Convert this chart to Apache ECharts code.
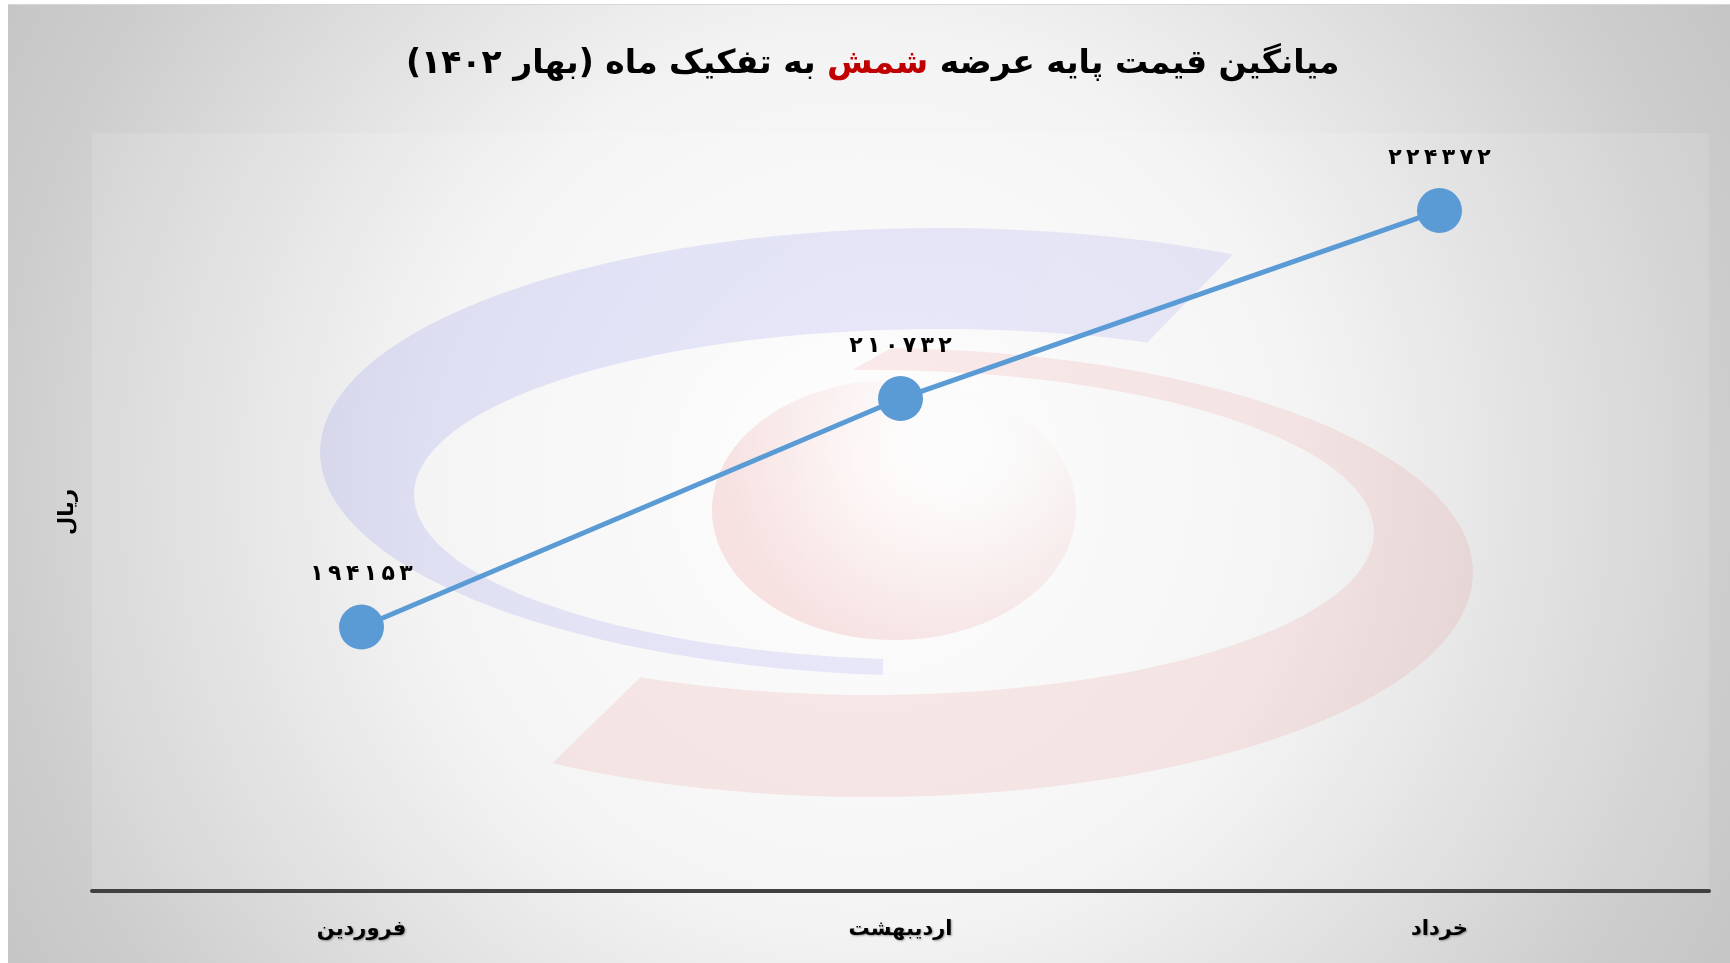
<!DOCTYPE html>
<html>
<head>
<meta charset="utf-8">
<script src="https://cdn.jsdelivr.net/npm/echarts@6/dist/echarts.min.js"></script>
<style>
html,body{margin:0;padding:0;background:#fff;}
#main{position:absolute;left:0;top:0;width:1730px;height:963px;}
</style>
</head>
<body>
<div id="main"></div>
<script>
// ---- data ----
const categories = ['فروردین', 'اردیبهشت', 'خرداد'];
const values = [194153, 210732, 224372];
const yMin = 175000;
const yMax = 230000;
const titleStart = 'میانگین قیمت پایه عرضه';
const titleRed = 'شمش';
const titleEnd = 'به تفکیک ماه (بهار ۱۴۰۲)';
const yName = 'ریال';

const FA = '۰۱۲۳۴۵۶۷۸۹';
const toFa = s => String(s).replace(/\d/g, d => FA[d]);
const RLM = '\u200F';

// ---- decorative watermark (ellipse bands) ----
function band(cx1, cy1, rx1, ry1, a0, a1, cx2, cy2, rx2, ry2, b0, b1) {
  const pts = [];
  const n = 80;
  for (let i = 0; i <= n; i++) {
    const t = (a0 + (a1 - a0) * i / n) * Math.PI / 180;
    pts.push([cx1 + rx1 * Math.cos(t), cy1 + ry1 * Math.sin(t)]);
  }
  for (let i = 0; i <= n; i++) {
    const t = (b1 + (b0 - b1) * i / n) * Math.PI / 180;
    pts.push([cx2 + rx2 * Math.cos(t), cy2 + ry2 * Math.sin(t)]);
  }
  return pts;
}
function ellipsePts(cx, cy, rx, ry) {
  const pts = [];
  for (let i = 0; i < 100; i++) {
    const t = i / 100 * Math.PI * 2;
    pts.push([cx + rx * Math.cos(t), cy + ry * Math.sin(t)]);
  }
  return pts;
}

const bluePts = band(940, 452, 620, 224, 95.3, 298.2, 940, 494.5, 526, 165.5, 96.2, 293.2);
const redPts = band(870, 572.5, 603, 224.5, 272, 481.8, 870, 532.5, 504, 162.5, 268, 477.1);
const pinkPts = ellipsePts(894, 510, 182, 130);

const chart = echarts.init(document.getElementById('main'), null, {renderer: 'canvas'});

const option = {
  animation: false,
  backgroundColor: {
    type: 'radial', x: 0.5, y: 0.5, r: 1.03,
    colorStops: [
      {offset: 0, color: '#ffffff'},
      {offset: 0.45, color: '#f3f3f3'},
      {offset: 0.87, color: '#cdcdcd'},
      {offset: 1, color: '#c5c5c5'}
    ]
  },
  title: {
    left: 401,
    top: 43,
    text: '{a|' + RLM + titleEnd + RLM + '}{a| }{r|' + titleRed + '}{a| }{a|' + titleStart + '}',
    textStyle: {
      rich: {
        a: {fontFamily: 'DejaVu Sans', fontWeight: 'bold', fontSize: 33, color: '#000'},
        r: {fontFamily: 'DejaVu Sans', fontWeight: 'bold', fontSize: 33, color: '#c00000'}
      }
    }
  },
  graphic: [
    {type: 'rect', z: -20, silent: true, shape: {x: 92, y: 133, width: 1617, height: 758},
      style: {fill: 'rgba(255,255,255,0.12)'}},
    {type: 'polygon', z: -15, silent: true, shape: {points: bluePts},
      style: {fill: {type: 'linear', x: 0, y: 0, x2: 1, y2: 1, colorStops: [
        {offset: 0, color: 'rgba(110,110,235,0.17)'},
        {offset: 1, color: 'rgba(110,110,235,0.12)'}]}}},
    {type: 'polygon', z: -15, silent: true, shape: {points: redPts},
      style: {fill: 'rgba(225,70,70,0.10)'}},
    {type: 'polygon', z: -15, silent: true, shape: {points: pinkPts},
      style: {fill: {type: 'radial', x: 0.7, y: 0.2, r: 0.95, colorStops: [
        {offset: 0, color: 'rgba(255,255,255,0)'},
        {offset: 0.5, color: 'rgba(225,90,90,0.06)'},
        {offset: 1, color: 'rgba(225,90,90,0.16)'}]}}},
    {type: 'rect', z: -5, silent: true, shape: {x: 0, y: 0, width: 8, height: 963}, style: {fill: '#ffffff'}},
    {type: 'rect', z: -5, silent: true, shape: {x: 0, y: 0, width: 1730, height: 4}, style: {fill: '#ffffff'}},
    {type: 'rect', z: -5, silent: true, shape: {x: 8, y: 4, width: 1722, height: 1}, style: {fill: '#d6d6d6'}}
  ],
  grid: {left: 92, right: 21, top: 133, bottom: 72, containLabel: false},
  xAxis: {
    type: 'category',
    data: categories,
    boundaryGap: true,
    axisTick: {show: false},
    axisLine: {show: true, lineStyle: {color: '#404040', width: 4}},
    axisLabel: {
      margin: 28, color: '#000', fontFamily: 'DejaVu Sans', fontWeight: 'bold', fontSize: 21,
      textShadowColor: 'rgba(0,0,0,0.35)', textShadowBlur: 2, textShadowOffsetX: 1, textShadowOffsetY: 1
    },
    splitLine: {show: false}
  },
  yAxis: {
    type: 'value',
    min: yMin, max: yMax,
    name: yName,
    nameLocation: 'middle',
    nameGap: 14,
    nameRotate: 90,
    nameTextStyle: {fontFamily: 'DejaVu Sans', fontWeight: 'bold', fontSize: 21, color: '#000'},
    axisLine: {show: false},
    axisTick: {show: false},
    axisLabel: {show: false},
    splitLine: {show: false}
  },
  series: [{
    type: 'line',
    data: values,
    symbol: 'circle',
    symbolSize: 45,
    lineStyle: {color: '#5b9bd5', width: 5},
    itemStyle: {color: '#5b9bd5'},
    label: {
      show: true, position: 'top', distance: 19,
      fontFamily: 'DejaVu Sans', fontWeight: 'bold', fontSize: 22, color: '#000',
      formatter: p => toFa(p.value).split('').join('\u2009')
    },
    z: 5
  }]
};
chart.setOption(option);
</script>
</body>
</html>
